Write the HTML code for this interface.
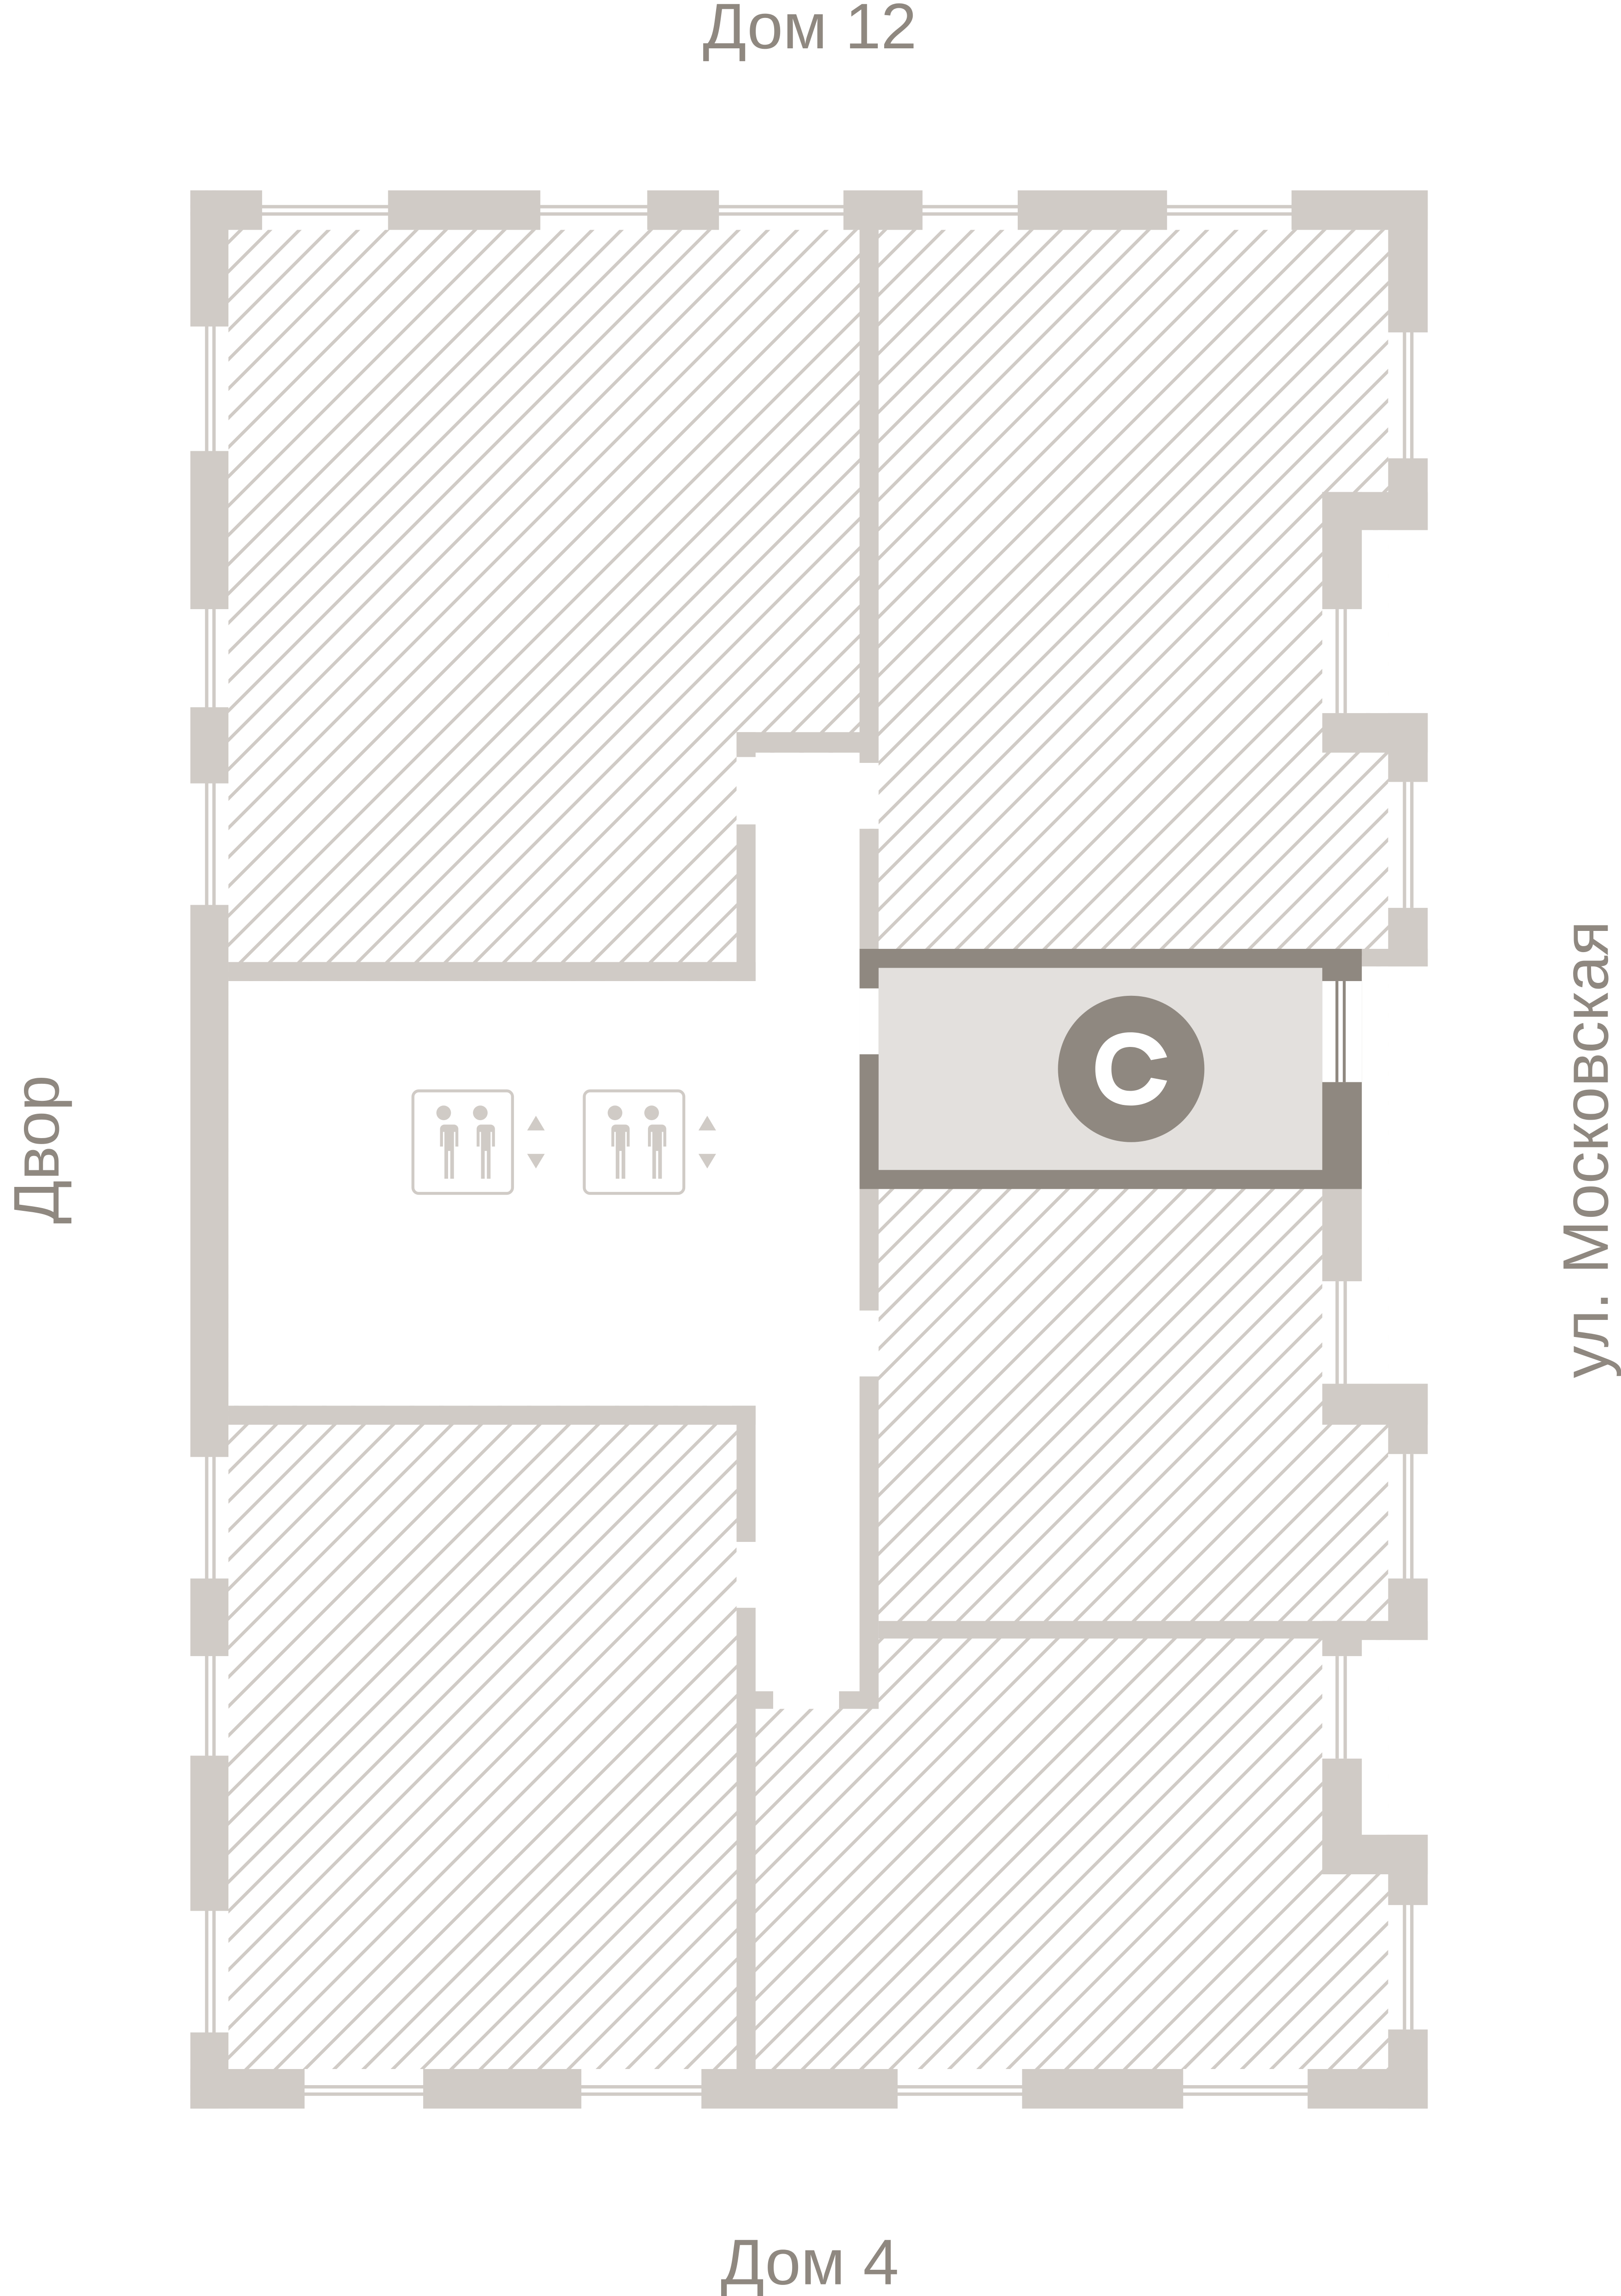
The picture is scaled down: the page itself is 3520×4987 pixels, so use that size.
<!DOCTYPE html>
<html><head><meta charset="utf-8"><style>html,body{margin:0;padding:0;background:#fff}svg{display:block}</style></head>
<body>
<svg xmlns="http://www.w3.org/2000/svg" width="3520" height="4987" viewBox="0 0 1107 1568" preserveAspectRatio="none">
<defs>
<pattern id="h" patternUnits="userSpaceOnUse" width="14.14" height="14.14" patternTransform="rotate(45)">
<rect x="0" y="0" width="2.2" height="14.14" fill="#d0cbc6"/>
</pattern>
</defs>
<rect width="1107" height="1568" fill="#fff"/>
<!-- window double lines -->
<g fill="#d0cbc6">
<rect x="140" y="130" width="2.3" height="1310"/><rect x="145" y="130" width="2.3" height="1310"/>
<rect x="130" y="140" width="845" height="2.3"/><rect x="130" y="145" width="845" height="2.3"/>
<rect x="130" y="1424" width="845" height="2.3"/><rect x="130" y="1429" width="845" height="2.3"/>
<rect x="958" y="227" width="2.3" height="86"/><rect x="963" y="227" width="2.3" height="86"/>
<rect x="958" y="534" width="2.3" height="86"/><rect x="963" y="534" width="2.3" height="86"/>
<rect x="958" y="993" width="2.3" height="85"/><rect x="963" y="993" width="2.3" height="85"/>
<rect x="958" y="1300" width="2.3" height="86"/><rect x="963" y="1300" width="2.3" height="86"/>
</g>
<!-- hatch -->
<rect x="156" y="157" width="792" height="1256" fill="url(#h)"/>
<!-- white areas -->
<g fill="#fff">
<rect x="156" y="670" width="431" height="290"/>
<rect x="503" y="514" width="84" height="653"/>
<rect x="516" y="1155" width="57" height="12"/>
<rect x="903" y="362" width="45" height="125"/>
<rect x="903" y="660" width="45" height="285"/>
<rect x="903" y="1120" width="45" height="133"/>
<rect x="587" y="520" width="13" height="46"/>
<rect x="587" y="895" width="13" height="45"/>
</g>
<g fill="#d0cbc6">
<rect x="912" y="416" width="2.3" height="71"/><rect x="917.5" y="416" width="2.3" height="71"/>
<rect x="912" y="875" width="2.3" height="70"/><rect x="917.5" y="875" width="2.3" height="70"/>
<rect x="912" y="1131" width="2.3" height="70"/><rect x="917.5" y="1131" width="2.3" height="70"/>
</g>
<g fill="#d0cbc6">
<!-- top -->
<rect x="130" y="130" width="49" height="27"/><rect x="265" y="130" width="104" height="27"/><rect x="442" y="130" width="49" height="27"/><rect x="576" y="130" width="54" height="27"/><rect x="695" y="130" width="102" height="27"/><rect x="882" y="130" width="93" height="27"/>
<!-- left -->
<rect x="130" y="130" width="26" height="93"/><rect x="130" y="308" width="26" height="108"/><rect x="130" y="483" width="26" height="52"/><rect x="130" y="618" width="26" height="377"/><rect x="130" y="1078" width="26" height="53"/><rect x="130" y="1199" width="26" height="106"/><rect x="130" y="1388" width="26" height="52"/>
<!-- bottom -->
<rect x="130" y="1413" width="78" height="27"/><rect x="289" y="1413" width="108" height="27"/><rect x="479" y="1413" width="134" height="27"/><rect x="698" y="1413" width="110" height="27"/><rect x="893" y="1413" width="82" height="27"/>
<!-- right -->
<rect x="948" y="130" width="27" height="97"/><rect x="948" y="313" width="27" height="49"/><rect x="903" y="336" width="72" height="26"/><rect x="903" y="336" width="27" height="80"/>
<rect x="903" y="487" width="72" height="27"/><rect x="948" y="487" width="27" height="47"/>
<rect x="948" y="620" width="27" height="40"/><rect x="930" y="648" width="45" height="12"/>
<rect x="903" y="812" width="27" height="63"/>
<rect x="903" y="945" width="72" height="28"/><rect x="948" y="945" width="27" height="48"/>
<rect x="948" y="1078" width="27" height="42"/><rect x="903" y="1107" width="72" height="13"/><rect x="903" y="1107" width="27" height="24"/>
<rect x="903" y="1201" width="27" height="79"/><rect x="903" y="1253" width="72" height="27"/><rect x="948" y="1253" width="27" height="48"/>
<rect x="948" y="1386" width="27" height="54"/>
<!-- interior -->
<rect x="587" y="130" width="13" height="391"/>
<rect x="503" y="500" width="84" height="14"/><rect x="503" y="500" width="13" height="17"/>
<rect x="503" y="563" width="13" height="107"/><rect x="156" y="657" width="360" height="13"/>
<rect x="587" y="566" width="13" height="84"/>
<rect x="156" y="960" width="360" height="13"/><rect x="503" y="960" width="13" height="93"/>
<rect x="503" y="1098" width="13" height="315"/><rect x="503" y="1155" width="25" height="12"/>
<rect x="573" y="1155" width="27" height="12"/><rect x="587" y="940" width="13" height="227"/>
<rect x="587" y="812" width="13" height="83"/>
<rect x="600" y="1107" width="348" height="12"/>
</g>
<!-- core -->
<rect x="587" y="648" width="343" height="164" fill="#8f8880"/>
<rect x="600" y="661" width="303" height="138" fill="#e3e0dd"/>
<rect x="587" y="675" width="13" height="45" fill="#fff"/>
<rect x="903" y="670" width="27" height="69" fill="#fff"/>
<rect x="912" y="670" width="2" height="69" fill="#8f8880"/><rect x="917" y="670" width="2" height="69" fill="#8f8880"/>
<circle cx="772.5" cy="730" r="50" fill="#8f8880"/>
<path d="M797 722 C793 710 783 705 772 705 C757 705 748 715 748 730 C748 745 757 755 772 755 C783 755 793 750 797 738 L786 736 C783 742 778 745 772 745 C763 745 759 739 759 730 C759 721 763 715 772 715 C778 715 783 718 786 724 Z" fill="#fff"/>
<!-- elevators -->
<g fill="none" stroke="#d0cbc6" stroke-width="2">
<rect x="282" y="745" width="68" height="70" rx="4"/>
<rect x="399" y="745" width="68" height="70" rx="4"/>
</g>
<g fill="#d0cbc6">
<g id="p"><circle cx="303" cy="760" r="5"/><path d="M296 768 h14 a3 3 0 0 1 3 3 v12 h-2 v-10 h-1 v32 h-2.5 v-19 h-1.5 v19 h-2.5 v-32 h-1 v10 h-2 v-12 a3 3 0 0 1 3 -3z"/></g>
<use href="#p" x="25"/><use href="#p" x="117"/><use href="#p" x="142"/>
<path d="M366 762 l6 10 h-12z"/><path d="M366 798 l6 -10 h-12z"/>
<path d="M483 762 l6 10 h-12z"/><path d="M483 798 l6 -10 h-12z"/>
</g>
<!-- labels -->
<g fill="#8f8880" font-family="'Liberation Sans', sans-serif" font-size="44">
<text x="553" y="33" text-anchor="middle">Дом 12</text>
<text x="553" y="1560" text-anchor="middle">Дом 4</text>
<text transform="translate(40,785) rotate(-90)" text-anchor="middle">Двор</text>
<text transform="translate(1098,785) rotate(-90)" text-anchor="middle">ул. Московская</text>
</g>
</svg>
</body></html>
